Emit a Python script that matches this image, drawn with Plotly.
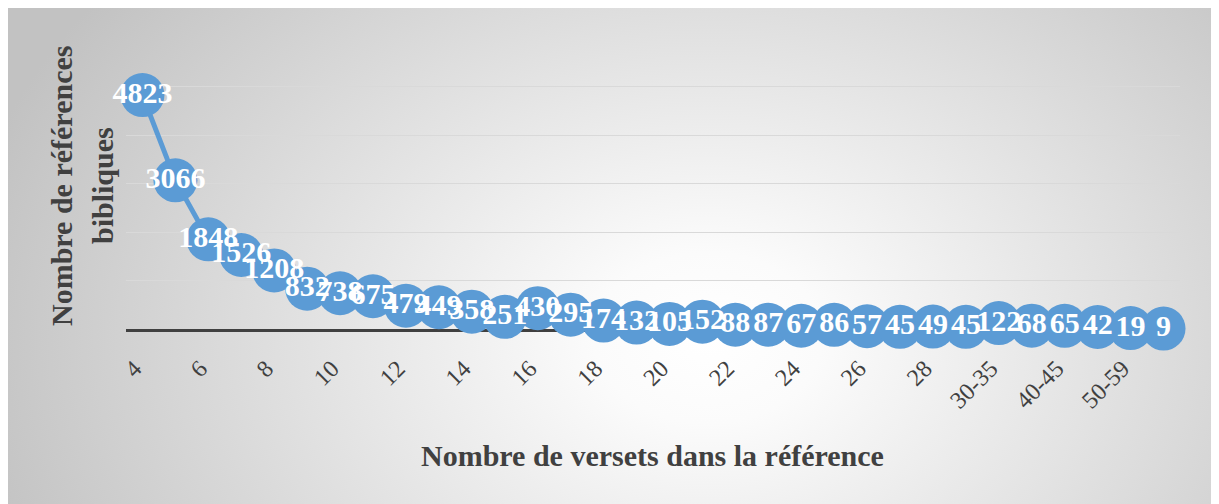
import plotly.graph_objects as go
import base64

categories = ["4", "5", "6", "7", "8", "9", "10", "11", "12", "13", "14", "15", "16", "17",
              "18", "19", "20", "21", "22", "23", "24", "25", "26", "27", "28", "29",
              "30-35", "36-39", "40-45", "46-49", "50-59", "60+"]
values = [4823, 3066, 1848, 1526, 1208, 832, 738, 675, 479, 449, 358, 251, 430, 295,
          174, 132, 105, 152, 88, 87, 67, 86, 57, 45, 49, 45,
          122, 68, 65, 42, 19, 9]
tick_labels = categories[0::2]

x_title = "Nombre de versets dans la référence"
y_title_1 = "Nombre de références"
y_title_2 = "bibliques"

W, H = 1210, 496
L, R, T, B = 118, W - 1172, 30, H - 321
pw, ph = W - L - R, H - T - B

def px_x(p):
    return (p - L) / pw

def px_y(p):
    return (H - B - p) / ph

svg = f'''<svg xmlns="http://www.w3.org/2000/svg" width="{W}" height="{H}" viewBox="0 0 {W} {H}" preserveAspectRatio="none">
<defs><radialGradient id="g" gradientUnits="userSpaceOnUse" cx="700" cy="330" r="760" gradientTransform="translate(700 330) scale(1 0.75) translate(-700 -330)">
<stop offset="0" stop-color="#ffffff"/><stop offset="0.15" stop-color="#fbfbfb"/><stop offset="1" stop-color="#c2c2c2"/></radialGradient></defs>
<rect x="0" y="0" width="{W}" height="{H}" fill="url(#g)"/></svg>'''
bg = "data:image/svg+xml;base64," + base64.b64encode(svg.encode()).decode()

fig = go.Figure()
fig.add_trace(go.Scatter(
    x=categories, y=values, mode="lines+markers+text",
    line=dict(color="#5B9BD5", width=5),
    marker=dict(color="#5B9BD5", size=44),
    text=[str(v) for v in values], textposition="middle center",
    textfont=dict(family="Liberation Serif", size=30, color="white", weight="bold"),
    cliponaxis=False, showlegend=False,
))

title_font = dict(family="Liberation Serif", size=30, color="#404040", weight="bold")

fig.update_layout(
    width=W, height=H,
    margin=dict(l=L, r=R, t=T, b=B),
    paper_bgcolor="#e0e0e0", plot_bgcolor="rgba(0,0,0,0)",
    images=[dict(source=bg, xref="paper", yref="paper",
                 x=px_x(0), y=px_y(0), sizex=px_x(W) - px_x(0), sizey=px_y(0) - px_y(H),
                 sizing="stretch", layer="below", xanchor="left", yanchor="top")],
    xaxis=dict(type="category", tickmode="array", tickvals=tick_labels, ticktext=tick_labels,
               tickangle=-45, ticks="outside", ticklen=13, tickcolor="rgba(0,0,0,0)",
               ticklabelshift=-8,
               tickfont=dict(family="Liberation Serif", size=24, color="#404040"),
               showline=True, linecolor="#404040", linewidth=3, showgrid=False,
               layer="below traces", range=[-0.5, len(categories) - 0.5]),
    yaxis=dict(range=[0, 6000], dtick=1000, showticklabels=False, gridcolor="#d9d9d9",
               gridwidth=1, zeroline=False, showline=False, layer="below traces"),
    annotations=[
        dict(text=x_title, xref="paper", yref="paper", x=px_x(644), y=px_y(447),
             showarrow=False, xanchor="center", yanchor="middle", font=title_font),
        dict(text=y_title_1, xref="paper", yref="paper", x=px_x(53), y=px_y(178),
             showarrow=False, xanchor="center", yanchor="middle", textangle=-90, font=title_font),
        dict(text=y_title_2, xref="paper", yref="paper", x=px_x(94), y=px_y(178),
             showarrow=False, xanchor="center", yanchor="middle", textangle=-90, font=title_font),
    ],
)

fig.write_html("out.html")
